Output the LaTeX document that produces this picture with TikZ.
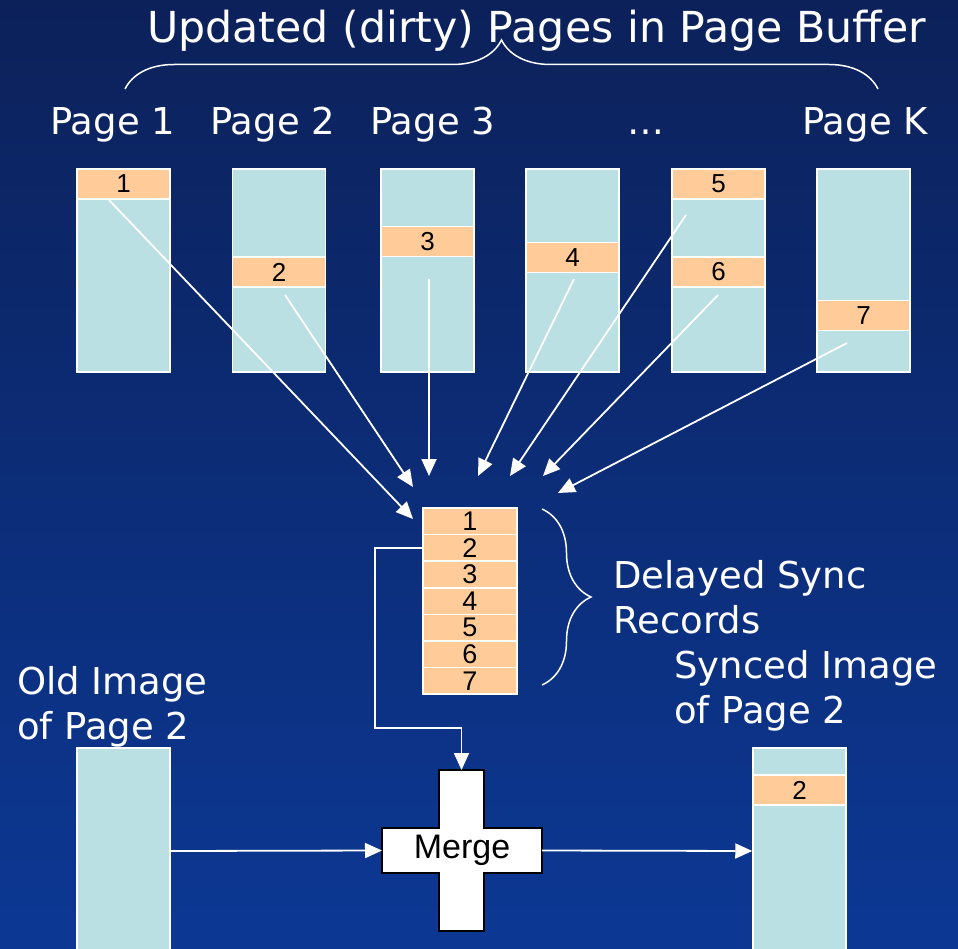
\documentclass[tikz,border=0pt]{standalone}
\usepackage{fontspec}
\setmainfont{DejaVu Sans}
\newfontfamily\arialfont{Liberation Sans}
\usetikzlibrary{arrows.meta,positioning,decorations.pathreplacing,calc}

\definecolor{bgtop}{RGB}{12,33,90}
\definecolor{bgbot}{RGB}{12,56,148}
\definecolor{pagecol}{RGB}{186,224,227}
\definecolor{bandcol}{RGB}{255,204,153}

\begin{document}
\begin{tikzpicture}[
  x=1pt, y=-1pt,
  page/.style={draw=white, line width=1.5pt, fill=pagecol, minimum width=93pt, minimum height=203pt, inner sep=0pt},
  band/.style={draw=white, line width=1.5pt, fill=bandcol, minimum width=93pt, minimum height=30pt, inner sep=0pt, font=\arialfont\fontsize{26}{26}\selectfont},
  rec/.style={band, minimum width=94pt, minimum height=26.6pt, outer sep=0pt, font=\arialfont\fontsize{27}{27}\selectfont},
  lbl/.style={text=white, inner sep=0pt, align=left, font=\fontsize{37}{45}\selectfont},
  arr/.style={draw=white, line width=1.8pt, -{Triangle[length=17pt,width=15pt]}},
  brc/.style={draw=white, line width=1.5pt, decorate, decoration={brace, amplitude=49pt}},
  mbox/.style={fill=white, inner sep=0pt, outer sep=0pt}
]

% Background
\useasboundingbox (0,0) rectangle (958,949);
\clip (0,0) rectangle (958,949);
\shade[top color=bgtop, bottom color=bgbot] (0,0) rectangle (958,949);

% Title and brace
\node[lbl, anchor=base west, font=\fontsize{42.7}{50}\selectfont] (title) at (147,43) {Updated (dirty) Pages in Page Buffer};
\draw[brc] (125,89) -- (878,89);

% Page labels
\node[lbl, anchor=base west] (lab1) at (50,135) {Page 1};
\node[lbl, anchor=base west] (lab2) at (210,135) {Page 2};
\node[lbl, anchor=base west] (lab3) at (370,135) {Page 3};
\node[lbl, anchor=base] (labdots) at (646,135) {\ldots};
\node[lbl, anchor=base west] (labk) at (802,135) {Page K};

% Dirty pages
\node[page] (p1) at (123.5,270.5) {};
\node[page] (p2) at (279,270.5) {};
\node[page] (p3) at (427.5,270.5) {};
\node[page] (p4) at (572.5,270.5) {};
\node[page] (p5) at (718.5,270.5) {};
\node[page] (pk) at (863.5,270.5) {};

\node[band] (b1) at (123.5,184) {1};
\node[band] (b2) at (279,272) {2};
\node[band] (b3) at (427.5,241.5) {3};
\node[band] (b4) at (572.5,257.5) {4};
\node[band] (b5) at (718.5,184) {5};
\node[band] (b6) at (718.5,272) {6};
\node[band] (b7) at (863.5,315.5) {7};

% Delayed sync records
\node[rec] (r1) at (470,521.3) {1};
\node[rec, below=0pt of r1] (r2) {2};
\node[rec, below=0pt of r2] (r3) {3};
\node[rec, below=0pt of r3] (r4) {4};
\node[rec, below=0pt of r4] (r5) {5};
\node[rec, below=0pt of r5] (r6) {6};
\node[rec, below=0pt of r6] (r7) {7};

\draw[brc] (542,509) -- (542,685);
\node[lbl, anchor=base west] (reclab) at (613,633) {Delayed Sync\\Records};

% Records feed
\coordinate (s1) at (109,200);
\coordinate (s2) at (285,295);
\coordinate (s3) at (429,279);
\coordinate (s4) at (574,279);
\coordinate (s5) at (686,215);
\coordinate (s6) at (718,295);
\coordinate (s7) at (847,343);
\coordinate (e1) at (413,519);
\coordinate (e2) at (413,487);
\coordinate (e3) at (429,476);
\coordinate (e4) at (478,476);
\coordinate (e5) at (510,476);
\coordinate (e6) at (543,476);
\coordinate (e7) at (558,493);

\draw[arr] (s1) -- (e1);
\draw[arr] (s2) -- (e2);
\draw[arr] (s3) -- (e3);
\draw[arr] (s4) -- (e4);
\draw[arr] (s5) -- (e5);
\draw[arr] (s6) -- (e6);
\draw[arr] (s7) -- (e7);

% Old and synced images
\node[lbl, anchor=base west] (oldlab) at (17,739) {Old Image\\of Page 2};
\node[page, minimum height=206pt] (old) at (123.5,851) {};

\node[lbl, anchor=base west] (synclab) at (674,723) {Synced Image\\of Page 2};
\node[page, minimum height=206pt] (synced) at (799.5,851) {};
\node[band] (b8) at (799.5,790) {2};

% Merge
\node[mbox, minimum width=45pt, minimum height=161pt] (mergev) at (461.5,850.5) {};
\node[mbox, minimum width=160pt, minimum height=45pt, font=\arialfont\fontsize{34}{34}\selectfont] (mergeh) at (462,850.5) {Merge};
\draw[black, line width=1.8pt] (mergev.north west) -- (mergev.north east)
  -- (mergev.north east |- mergeh.north) -- (mergeh.north east)
  -- (mergeh.south east) -- (mergev.south east |- mergeh.south)
  -- (mergev.south east) -- (mergev.south west)
  -- (mergev.south west |- mergeh.south) -- (mergeh.south west)
  -- (mergeh.north west) -- (mergev.north west |- mergeh.north) -- cycle;

\coordinate (bend) at (375,728);
\draw[arr] (r2.west) -| (bend) -| (mergev.north);
\draw[arr] (old.east) -- (mergeh.west);
\draw[arr] (mergeh.east) -- (synced.west);

\end{tikzpicture}
\end{document}
